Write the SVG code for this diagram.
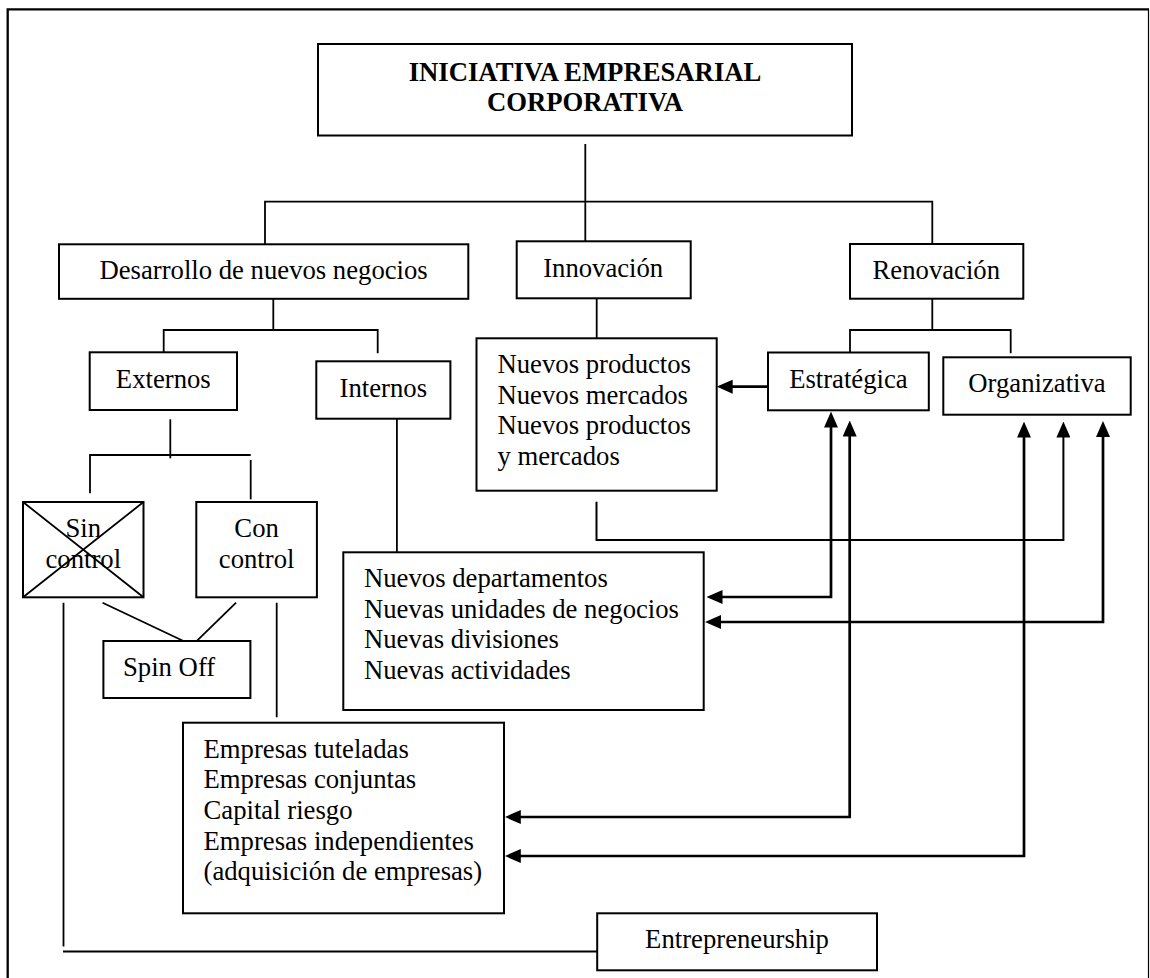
<svg xmlns="http://www.w3.org/2000/svg" width="1150" height="978" viewBox="0 0 1150 978">
  <style>
    .box { fill: #ffffff; stroke: #000000; stroke-width: 2; }
    .lbl { font-family: "Liberation Serif", "Times New Roman", serif; font-size: 26.7px; fill: #000000; }
    .mid { text-anchor: middle; }
    .title { font-weight: bold; }
    .tree { fill: none; stroke: #000000; stroke-width: 1.8; }
    .arr { fill: none; stroke: #000000; stroke-width: 2.7; }
    .thin { fill: none; stroke: #000000; stroke-width: 2; }
  </style>
  <defs>
    <marker id="head" markerUnits="userSpaceOnUse" markerWidth="16" markerHeight="14" refX="4" refY="7" orient="auto-start-reverse">
      <path d="M0,0 L16,7 L0,14 z" fill="#000000"/>
    </marker>
  </defs>

  <rect x="0" y="0" width="1150" height="978" fill="#ffffff"/>

  <!-- page frame -->
  <g id="frame" fill="none" stroke="#000000">
    <path d="M7.7,990 V9.3 H1149" stroke-width="2.3"/>
    <path d="M1148.5,9.3 V990" stroke-width="1.2"/>
  </g>

  <!-- connectors -->
  <g id="connectors">
    <path class="tree" d="M585.3,144 V241"/>
    <path class="tree" d="M265,244 V201.7 H932.3 V244"/>
    <path class="tree" d="M273.3,299 V330"/>
    <path class="tree" d="M163.7,352.3 V330 H377.7 V353.3"/>
    <path class="tree" d="M596.7,298 V338.3"/>
    <path class="tree" d="M932.3,298.7 V330"/>
    <path class="tree" d="M850,352.3 V330 H1010.7 V353.3"/>
    <path class="tree" d="M170.3,419.3 V458.3"/>
    <path class="tree" d="M90,493.3 V455 H250.7"/>
    <path class="tree" d="M250.7,460 V499.3"/>
    <path class="tree" d="M396.9,418.7 V553.3"/>
    <path class="tree" d="M63.5,602.7 V946.5"/>
    <path class="tree" d="M63,951.5 H597.2"/>
    <path class="tree" d="M102.6,602.7 L182.9,640.7"/>
    <path class="tree" d="M236.1,602.7 L197.1,640.7"/>
    <path class="tree" d="M276.7,602.7 V717.3"/>

    <!-- arrows -->
    <path class="arr" d="M768,386.7 H728.7" marker-end="url(#head)"/>
    <path class="arr" d="M718.5,597 H831 V423.5" marker-start="url(#head)" marker-end="url(#head)"/>
    <path class="arr" d="M717,622 H1103 V433" marker-start="url(#head)" marker-end="url(#head)"/>
    <path class="arr" d="M516.8,817 H849.7 V432.5" marker-start="url(#head)" marker-end="url(#head)"/>
    <path class="arr" d="M516.8,856 H1024 V433.5" marker-start="url(#head)" marker-end="url(#head)"/>
    <path class="thin" d="M596.5,501.7 V540 H1063.4 V433.5" marker-end="url(#head)"/>
  </g>

  <!-- nodes -->
  <g id="n-iniciativa">
    <rect class="box" x="318" y="44" width="534" height="91.5"/>
    <text class="lbl mid title" x="585" y="81">INICIATIVA EMPRESARIAL</text>
    <text class="lbl mid title" x="585" y="111">CORPORATIVA</text>
  </g>

  <g id="n-desarrollo">
    <rect class="box" x="59" y="244.3" width="409.3" height="54.5"/>
    <text class="lbl mid" x="263.6" y="279.3">Desarrollo de nuevos negocios</text>
  </g>

  <g id="n-innovacion">
    <rect class="box" x="516.7" y="241.3" width="174" height="57"/>
    <text class="lbl mid" x="603.2" y="276.7">Innovación</text>
  </g>

  <g id="n-renovacion">
    <rect class="box" x="850" y="244" width="173.3" height="54.7"/>
    <text class="lbl mid" x="936.3" y="279.3">Renovación</text>
  </g>

  <g id="n-externos">
    <rect class="box" x="89.7" y="352.3" width="147.3" height="57.7"/>
    <text class="lbl mid" x="163.3" y="388.3">Externos</text>
  </g>

  <g id="n-internos">
    <rect class="box" x="316.3" y="361.3" width="134.1" height="57.4"/>
    <text class="lbl mid" x="383.3" y="397.3">Internos</text>
  </g>

  <g id="n-productos">
    <rect class="box" x="476.5" y="338.3" width="240.2" height="152.4"/>
    <text class="lbl" x="497.5" y="372.7">Nuevos productos</text>
    <text class="lbl" x="497.5" y="403.5">Nuevos mercados</text>
    <text class="lbl" x="497.5" y="434.3">Nuevos productos</text>
    <text class="lbl" x="497.5" y="465">y mercados</text>
  </g>

  <g id="n-estrategica">
    <rect class="box" x="768" y="352.5" width="160.8" height="57.8"/>
    <text class="lbl mid" x="848.4" y="388.3">Estratégica</text>
  </g>

  <g id="n-organizativa">
    <rect class="box" x="943.3" y="357.3" width="187.4" height="57.4"/>
    <text class="lbl mid" x="1037" y="391.7">Organizativa</text>
  </g>

  <g id="n-sin-control">
    <rect class="box" x="23" y="502" width="120.5" height="95.3"/>
    <text class="lbl mid" x="83.3" y="536.7">Sin</text>
    <text class="lbl mid" x="83.3" y="568.3">control</text>
    <path d="M23,502 L143.5,597.3 M143.5,502 L23,597.3" stroke="#000000" stroke-width="1.8" fill="none"/>
  </g>

  <g id="n-con-control">
    <rect class="box" x="196.3" y="502" width="120.6" height="95.3"/>
    <text class="lbl mid" x="256.6" y="536.7">Con</text>
    <text class="lbl mid" x="256.6" y="568.3">control</text>
  </g>

  <g id="n-spin-off">
    <rect class="box" x="103.4" y="641" width="147" height="57"/>
    <text class="lbl" x="123" y="676">Spin Off</text>
  </g>

  <g id="n-departamentos">
    <rect class="box" x="343.3" y="552.3" width="360.4" height="157.7"/>
    <text class="lbl" x="364" y="587">Nuevos departamentos</text>
    <text class="lbl" x="364" y="617.7">Nuevas unidades de negocios</text>
    <text class="lbl" x="364" y="648.3">Nuevas divisiones</text>
    <text class="lbl" x="364" y="679">Nuevas actividades</text>
  </g>

  <g id="n-empresas">
    <rect class="box" x="183" y="722.7" width="321" height="190.6"/>
    <text class="lbl" x="203.5" y="757.5">Empresas tuteladas</text>
    <text class="lbl" x="203.5" y="788">Empresas conjuntas</text>
    <text class="lbl" x="203.5" y="818.7">Capital riesgo</text>
    <text class="lbl" x="203.5" y="849.5">Empresas independientes</text>
    <text class="lbl" x="203.5" y="880">(adquisición de empresas)</text>
  </g>

  <g id="n-entrepreneurship">
    <rect class="box" x="597.2" y="913.3" width="279.8" height="57"/>
    <text class="lbl mid" x="737" y="948.3">Entrepreneurship</text>
  </g>
</svg>
